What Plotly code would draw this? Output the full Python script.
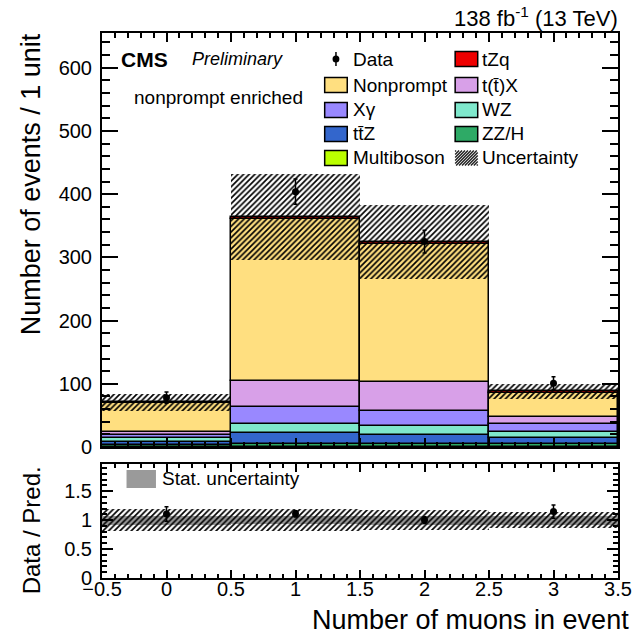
import numpy as np
import plotly.graph_objects as go

# ---- data -------------------------------------------------------------
bins = [0, 1, 2, 3]

# stacked backgrounds, bottom to top
zzh = [3.0, 5.0, 4.0, 5.0]
multiboson = [0.3, 0.5, 0.5, 0.5]
ttz = [5.0, 16.0, 14.0, 9.0]
wz = [6.0, 15.0, 14.0, 9.0]
xgamma = [5.0, 27.0, 25.0, 13.0]
ttx = [5.0, 41.0, 46.0, 11.0]
nonprompt = [45.0, 257.0, 218.0, 38.0]
tzq = [1.2, 3.0, 3.0, 2.5]

data = [78, 404, 325, 101]
total_unc = [13.0, 68.0, 58.0, 12.0]        # absolute total uncertainty
stat_rel = [0.08, 0.07, 0.08, 0.08]         # relative MC stat. uncertainty

processes = [
    ("ZZ/H", zzh, "#2eaa66"),
    ("Multiboson", multiboson, "#bbff00"),
    ("tt\u0304Z", ttz, "#3366cc"),
    ("WZ", wz, "#7fe8cc"),
    ("X\u03b3", xgamma, "#9988ff"),
    ("t(t\u0304)X", ttx, "#d8a0e8"),
    ("Nonprompt", nonprompt, "#ffdf80"),
    ("tZq", tzq, "#ee0000"),
]

FONT = "Liberation Sans, Arial, Helvetica, sans-serif"

# ---- canvas geometry (pixels) ----------------------------------------
W, H = 644, 641
L, R, T, B = 102, 628, 33, 578          # plotting area edges
MAIN_BOT = 447
RATIO_TOP = 464


def px(xp):
    return (xp - L) / (R - L)


def py(yp):
    return (B - yp) / (B - T)


HATCH = dict(shape="/", fgcolor="#000000", bgcolor="rgba(0,0,0,0)",
             size=4, solidity=0.42, fgopacity=1)

fig = go.Figure()

# ---- stacked histogram ------------------------------------------------
base = np.zeros(len(bins))
for name, vals, col in processes:
    v = np.array(vals, dtype=float)
    fig.add_trace(go.Bar(
        x=bins, y=v, base=base.copy(), width=1.0, name=name,
        marker=dict(color=col, line=dict(color="black", width=1.5)),
        xaxis="x", yaxis="y", showlegend=False, hoverinfo="skip"))
    base = base + v
total = base

unc = np.array(total_unc)
fig.add_trace(go.Bar(
    x=bins, y=2 * unc, base=total - unc, width=1.0, name="Uncertainty",
    marker=dict(color="rgba(0,0,0,0)", line=dict(width=0), pattern=HATCH),
    xaxis="x", yaxis="y", showlegend=False, hoverinfo="skip"))

d = np.array(data, dtype=float)
fig.add_trace(go.Scatter(
    x=bins, y=d, mode="markers", name="Data",
    marker=dict(color="black", size=7),
    error_y=dict(type="data", array=np.sqrt(d), color="black", thickness=1.5, width=2),
    xaxis="x", yaxis="y", showlegend=False))

# ---- ratio panel -------------------------------------------------------
srel = np.array(stat_rel)
fig.add_trace(go.Bar(
    x=bins, y=2 * srel, base=1 - srel, width=1.0, name="Stat. uncertainty",
    marker=dict(color="#9a9a9a", line=dict(width=0)),
    xaxis="x2", yaxis="y2", showlegend=False, hoverinfo="skip"))
trel = unc / total
fig.add_trace(go.Bar(
    x=bins, y=2 * trel, base=1 - trel, width=1.0, name="Total uncertainty",
    marker=dict(color="rgba(0,0,0,0)", line=dict(width=0), pattern=HATCH),
    xaxis="x2", yaxis="y2", showlegend=False, hoverinfo="skip"))
fig.add_trace(go.Scatter(
    x=bins, y=d / total, mode="markers", name="Data / Pred.",
    marker=dict(color="black", size=7),
    error_y=dict(type="data", array=np.sqrt(d) / total, color="black", thickness=1.5, width=2),
    xaxis="x2", yaxis="y2", showlegend=False))

# ---- axes ---------------------------------------------------------------
tickfont = dict(family=FONT, size=20, color="black")
common = dict(showline=True, linecolor="black", linewidth=2, mirror="allticks",
              ticks="inside", tickcolor="black", showgrid=False, zeroline=False,
              tickfont=tickfont)

main_dom = [py(MAIN_BOT), 1.0]
ratio_dom = [0.0, py(RATIO_TOP)]

fig.update_layout(
    width=W, height=H,
    margin=dict(l=L, r=W - R, t=T, b=H - B, pad=0),
    paper_bgcolor="white", plot_bgcolor="white",
    barmode="overlay", bargap=0,
    font=dict(family=FONT, color="black"),
    xaxis=dict(domain=[0, 1], anchor="y", range=[-0.5, 3.5], dtick=0.5, tick0=0,
               showticklabels=False, ticklen=9, tickwidth=1.5,
               minor=dict(dtick=0.1, tick0=0, ticklen=5, tickcolor="black", ticks="inside"),
               **common),
    yaxis=dict(domain=main_dom, anchor="x", range=[0, 655], dtick=100, tick0=0,
               ticklen=16, tickwidth=1.5, ticklabelstandoff=4,
               minor=dict(dtick=20, tick0=0, ticklen=8, tickcolor="black", ticks="inside"),
               **common),
    xaxis2=dict(domain=[0, 1], anchor="y2", range=[-0.5, 3.5], dtick=0.5, tick0=0,
                ticklen=8, tickwidth=1.5, ticklabelstandoff=-8,
                minor=dict(dtick=0.1, tick0=0, ticklen=4, tickcolor="black", ticks="inside"),
                **common),
    yaxis2=dict(domain=ratio_dom, anchor="x2", range=[0, 1.97], dtick=0.5, tick0=0,
                ticklen=11, tickwidth=1.5, ticklabelstandoff=4,
                minor=dict(dtick=0.1, tick0=0, ticklen=5, tickcolor="black", ticks="inside"),
                **common),
)

# ---- text ---------------------------------------------------------------
ann = []


def text(s, xp, yp, size, xanchor="left", yanchor="middle", angle=0, **kw):
    ann.append(dict(text=s, x=px(xp), y=py(yp), xref="paper", yref="paper",
                    xanchor=xanchor, yanchor=yanchor, showarrow=False, textangle=angle,
                    borderpad=0,
                    font=dict(family=FONT, size=size, color="black", **kw)))


text("138 fb<sup>-1</sup> (13 TeV)", R + 1, 17, 22, xanchor="right")
text("<b>CMS</b>", 120, 59, 21)
text("<i>Preliminary</i>", 193, 59, 18)
text("nonprompt enriched", 134, 97, 19)
text("Number of events / 1 unit", 30, T - 1, 27, xanchor="center", yanchor="top", angle=-90)
text("Data / Pred.", 30, RATIO_TOP + 1, 24, xanchor="center", yanchor="top", angle=-90)
text("Number of muons in event", R + 12, 620, 27, xanchor="right")

# ---- legend (drawn by hand, two columns) --------------------------------
shapes = []
rows = [59, 85, 110, 134, 158]
col1_box, col2_box = (329, 352), (462, 485)
col1_txt, col2_txt = 357, 488
colors = {n: c for n, _, c in processes}

col1 = ["Data", "Nonprompt", "X\u03b3", "tt\u0304Z", "Multiboson"]
col2 = ["tZq", "t(t\u0304)X", "WZ", "ZZ/H", "Uncertainty"]


def box(x0, x1, yc, fill, lw=1.5):
    shapes.append(dict(type="rect", xref="paper", yref="paper",
                       x0=px(x0), x1=px(x1), y0=py(yc + 7.5), y1=py(yc - 7.5),
                       fillcolor=fill, line=dict(color="black", width=lw)))


for name, yc in zip(col1, rows):
    if name == "Data":
        xc = 0.5 * (col1_box[0] + col1_box[1])
        shapes.append(dict(type="line", xref="paper", yref="paper",
                           x0=px(xc), x1=px(xc), y0=py(yc + 7), y1=py(yc - 7),
                           line=dict(color="black", width=1.5)))
        shapes.append(dict(type="circle", xref="paper", yref="paper",
                           x0=px(xc - 3.5), x1=px(xc + 3.5), y0=py(yc + 3.5), y1=py(yc - 3.5),
                           fillcolor="black", line=dict(color="black", width=0)))
    else:
        box(col1_box[0], col1_box[1], yc, colors[name])
    text(name, col1_txt, yc, 19)

for name, yc in zip(col2, rows):
    if name == "Uncertainty":
        x0, x1 = col2_box
        y0, y1 = yc - 7.5, yc + 7.5
        segs = []
        for c in np.arange(x0 + y0 + 1, x1 + y1, 3.0):
            a = max(x0, c - y1)
            b = min(x1, c - y0)
            if b > a:
                segs.append(f"M{px(a):.5f},{py(c - a):.5f} L{px(b):.5f},{py(c - b):.5f}")
        shapes.append(dict(type="path", xref="paper", yref="paper", path=" ".join(segs),
                           line=dict(color="#222222", width=1.4)))
    else:
        box(col2_box[0], col2_box[1], yc, colors[name])
    text(name, col2_txt, yc, 19)

# ratio legend
shapes.append(dict(type="rect", xref="paper", yref="paper",
                   x0=px(127), x1=px(157), y0=py(488), y1=py(470),
                   fillcolor="#9a9a9a", line=dict(color="#9a9a9a", width=0)))
text("Stat. uncertainty", 162, 479, 19)

fig.update_layout(annotations=ann, shapes=shapes)

fig.write_html("out.html")
